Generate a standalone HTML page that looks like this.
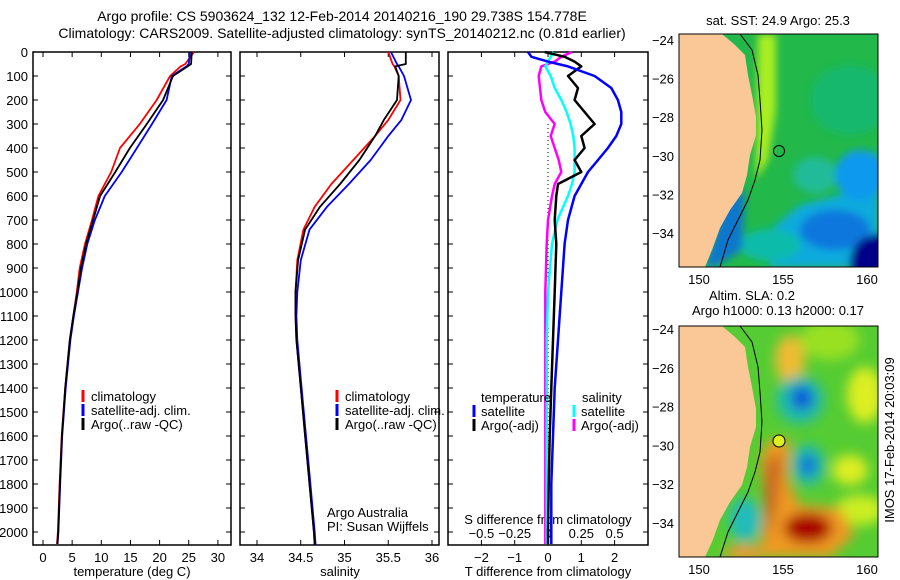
<!DOCTYPE html>
<html><head><meta charset="utf-8"><style>
html,body{margin:0;padding:0;background:#fff}
svg{display:block;font-family:"Liberation Sans",sans-serif}
text{font-size:13px;fill:#000}
</style></head><body>
<svg id="chart" width="900" height="580" viewBox="0 0 900 580">
<defs>
<filter id="blur4" x="-20%" y="-20%" width="140%" height="140%"><feGaussianBlur stdDeviation="6"/></filter>
<filter id="blur2" x="-20%" y="-20%" width="140%" height="140%"><feGaussianBlur stdDeviation="4"/></filter>
<clipPath id="clipTop"><rect x="679" y="34" width="199" height="233"/></clipPath>
<clipPath id="clipBot"><rect x="679" y="326" width="199" height="231"/></clipPath>
</defs>
<text x="342" y="21" text-anchor="middle" style="font-size:14px">Argo profile: CS 5903624_132 12-Feb-2014 20140216_190 29.738S 154.778E</text>
<text x="342" y="38" text-anchor="middle" style="font-size:14px">Climatology: CARS2009. Satellite-adjusted climatology: synTS_20140212.nc (0.81d earlier)</text>
<g id="panels"></g>

<!-- top map -->
<g>
<text x="778" y="25" text-anchor="middle">sat. SST: 24.9 Argo: 25.3</text>
<g clip-path="url(#clipTop)">
<rect x="679" y="34" width="199" height="233" fill="#22b84a"/>
<g filter="url(#blur2)">
<ellipse cx="850" cy="100" rx="40" ry="35" fill="#14b86e"/>
<ellipse cx="815" cy="175" rx="22" ry="18" fill="#22bb99"/>
<polygon points="800,205 840,195 878,150 878,267 770,267 770,230" fill="#11aadd"/>
<ellipse cx="860" cy="175" rx="25" ry="25" fill="#1199ee"/>
<ellipse cx="835" cy="230" rx="35" ry="20" fill="#1177dd"/>
<ellipse cx="880" cy="262" rx="30" ry="28" fill="#000088"/>
<ellipse cx="770" cy="245" rx="30" ry="16" fill="#11bbaa"/>
<polygon points="758,34 776,34 776,110 768,160 756,180" fill="#aaee22"/>
<polygon points="725,200 745,190 742,250 715,267 705,267" fill="#1177cc"/>
</g>
<polygon points="722,34 735,45 745,55 748,75 752,95 756,117 756,135 750,155 747,175 742,193 730,210 720,228 712,250 705,267 679,267 679,34" fill="#fac896"/>
<polyline points="740,34 752,50 758,75 760,100 762,130 760,160 755,180 748,200 738,220 728,240 720,267" fill="none" stroke="#000" stroke-width="1"/>
</g>
<rect x="679" y="34" width="199" height="233" fill="none" stroke="#000"/>
<circle cx="779" cy="151" r="5.5" fill="none" stroke="#000"/>
</g>

<!-- bottom map -->
<g>
<text x="752" y="300" text-anchor="middle">Altim. SLA: 0.2</text>
<text x="778" y="315" text-anchor="middle">Argo h1000: 0.13 h2000: 0.17</text>
<g clip-path="url(#clipBot)">
<rect x="679" y="326" width="199" height="231" fill="#55cc33"/>
<g filter="url(#blur4)">
<ellipse cx="830" cy="340" rx="30" ry="20" fill="#99e022"/>
<ellipse cx="790" cy="360" rx="15" ry="25" fill="#eebb33"/>
<ellipse cx="865" cy="395" rx="18" ry="28" fill="#ddee22"/>
<ellipse cx="850" cy="470" rx="18" ry="15" fill="#ddee22"/>
<ellipse cx="860" cy="510" rx="25" ry="15" fill="#ccee22"/>
<ellipse cx="800" cy="400" rx="24" ry="24" fill="#22bbaa"/>
<ellipse cx="802" cy="398" rx="11" ry="12" fill="#1155dd"/>
<ellipse cx="808" cy="465" rx="17" ry="21" fill="#22bbaa"/>
<ellipse cx="808" cy="465" rx="8" ry="10" fill="#1166dd"/>
<ellipse cx="745" cy="520" rx="16" ry="22" fill="#22bbbb"/>
<polygon points="768,440 790,440 788,480 800,505 840,508 855,535 830,557 760,557 765,500 760,460" fill="#ee9922"/>
<polygon points="782,455 778,500 768,540 764,500 766,460" fill="#cc6622"/>
<ellipse cx="808" cy="528" rx="24" ry="15" fill="#aa0000"/>
<ellipse cx="745" cy="553" rx="22" ry="8" fill="#ee9933"/>
</g>
<polygon points="722,326 735,337 745,347 748,367 752,387 756,409 756,427 750,447 747,467 742,485 730,502 720,520 712,542 705,557 679,557 679,326" fill="#fac896"/>
<polyline points="740,326 752,342 758,367 760,392 762,422 760,452 755,472 748,492 738,512 728,532 720,557" fill="none" stroke="#000" stroke-width="1"/>
</g>
<rect x="679" y="326" width="199" height="231" fill="none" stroke="#000"/>
<circle cx="779" cy="441" r="6" fill="#ddee22" stroke="#000"/>
</g>
<text transform="translate(894,440) rotate(-90)" text-anchor="middle">IMOS 17-Feb-2014 20:03:09</text>
</svg>
<script>
// ---- data ----
const depths    = [0, 50, 60, 100, 200, 300, 400, 500, 600, 700, 800, 900, 1000, 1100, 1200, 1400, 1600, 1800, 2000, 2050];
const tempClim  = [25.9, 24.4, 23.6, 21.8, 19.5, 16.6, 13.2, 11.7, 9.5, 8.4, 7.2, 6.3, 5.8, 5.2, 4.6, 3.8, 3.2, 2.85, 2.55, 2.4];
const tempSat   = [25.2, 25.0, 24.6, 22.1, 21.2, 18.7, 16.1, 13.5, 10.6, 8.9, 7.6, 6.7, 6.0, 5.3, 4.7, 3.9, 3.3, 2.95, 2.65, 2.5];
const tempArgo  = [25.5, 25.4, 24.8, 22.3, 20.6, 17.8, 14.9, 12.4, 9.8, 8.6, 7.4, 6.5, 5.9, 5.2, 4.6, 3.8, 3.25, 2.9, 2.6, 2.45];
const salDepths = [0, 50, 60, 100, 200, 283, 350, 450, 550, 645, 740, 867, 1000, 1100, 1200, 1400, 1600, 1800, 2000, 2055];
const salClim   = [35.5, 35.55, 35.57, 35.62, 35.64, 35.5, 35.35, 35.1, 34.85, 34.66, 34.53, 34.46, 34.44, 34.44, 34.45, 34.5, 34.55, 34.6, 34.65, 34.66];
const salSat    = [35.53, 35.6, 35.62, 35.68, 35.76, 35.65, 35.5, 35.3, 35.05, 34.8, 34.6, 34.5, 34.46, 34.45, 34.46, 34.51, 34.56, 34.61, 34.66, 34.67];
const salArgo   = [35.7, 35.7, 35.58, 35.62, 35.6, 35.45, 35.35, 35.17, 34.95, 34.72, 34.55, 34.47, 34.44, 34.44, 34.45, 34.5, 34.55, 34.6, 34.65, 34.66];
const diffDepths   = [0, 20, 40, 60, 100, 150, 200, 250, 300, 350, 400, 450, 500, 550, 600, 700, 800, 1000, 1200, 1400, 1600, 1800, 2000, 2050];
const tDiffSat     = [-0.6, -0.5, 0, 0.6, 1.4, 1.9, 2.1, 2.2, 2.2, 2.05, 1.8, 1.5, 1.2, 1.0, 0.8, 0.6, 0.5, 0.4, 0.3, 0.2, 0.15, 0.1, 0.1, 0.1];
const tDiffArgo    = [-0.1, 0.5, 0.8, 1.0, 0.6, 0.9, 0.8, 1.1, 1.4, 1.0, 1.1, 0.8, 1.0, 0.3, 0.25, 0.2, 0.25, 0.2, 0.15, 0.1, 0.05, 0.02, 0.0, 0.0];
const sDiffSat     = [0.04, 0.02, 0.0, -0.02, 0.02, 0.05, 0.1, 0.14, 0.17, 0.19, 0.2, 0.2, 0.2, 0.18, 0.15, 0.07, 0.03, 0.0, -0.01, -0.01, -0.01, -0.01, -0.01, -0.01];
const sDiffArgo    = [0.18, 0.1, 0.05, -0.05, -0.07, -0.06, -0.05, -0.02, 0.05, 0.02, 0.05, 0.08, 0.1, 0.05, 0.03, 0.0, -0.01, -0.02, -0.02, -0.02, -0.02, -0.02, -0.02, -0.02];
const depthTicks = [0,100,200,300,400,500,600,700,800,900,1000,1100,1200,1300,1400,1500,1600,1700,1800,1900,2000];
const tempTicks  = [0,5,10,15,20,25,30];
const salTicks   = [34,34.5,35,35.5,36];
const tDiffTicks = [-2,-1,0,1,2];
const sDiffTicks = [-0.5,-0.25,0,0.25,0.5];
const sDiffTickLabels = ["\u22120.5","\u22120.25","0","0.25","0.5"];
const tDiffTickLabels = ["\u22122","\u22121","0","1","2"];

// ---- scales ----
const TOP=52, BOT=545;
const yD = d => TOP + d*0.24;
const xT = t => 43 + t*5.83;
const xS = s => 257 + (s-34)*87.5;
const xDT = t => 548 + t*33.3;
const xDS = s => 548 + s*133.2;

const NS='http://www.w3.org/2000/svg';
const root=document.getElementById('panels');
function mk(tag, attrs, parent){const e=document.createElementNS(NS,tag);for(const k in attrs)e.setAttribute(k,attrs[k]);(parent||root).appendChild(e);return e;}

function frame(x0,x1,name){
  const r=mk('rect',{x:x0,y:TOP,width:x1-x0,height:BOT-TOP,fill:'none',stroke:'#000','stroke-width':1.5});
  
  
  depthTicks.forEach(d=>{
    mk('line',{x1:x0,x2:x0+5,y1:yD(d),y2:yD(d),stroke:'#000'});
    mk('line',{x1:x1-5,x2:x1,y1:yD(d),y2:yD(d),stroke:'#000'});
  });
}
function xticks(vals,labels,fx,x0,x1,name,ly){
  vals.forEach((v,i)=>{
    const x=fx(v);
    mk('line',{x1:x,x2:x,y1:BOT,y2:BOT-5,stroke:'#000'});
    mk('line',{x1:x,x2:x,y1:TOP,y2:TOP+5,stroke:'#000'});
    const t=mk('text',{x:x,y:ly||562,'text-anchor':'middle'});t.textContent=labels[i];
    
    
  });
}
function line(xs,ds,fx,color,w,name){
  const pts=xs.map((v,i)=>fx(v).toFixed(1)+','+yD(ds[i]).toFixed(1)).join(' ');
  const p=mk('polyline',{points:pts,fill:'none',stroke:color,'stroke-width':w,'stroke-linejoin':'round'});
  
  
}
function txt(x,y,s,name,anchor){
  const t=mk('text',{x:x,y:y,'text-anchor':anchor||'start'});t.textContent=s;
  
  
}
function legendMark(x,y,c){mk('rect',{x:x-1.5,y:y-11,width:3,height:12,fill:c});}

// panel 1
frame(33,231,'temperature-panel');
depthTicks.forEach(d=>{
  const t=mk('text',{x:28,y:yD(d)+5,'text-anchor':'end'});t.textContent=d;
  
  
});
xticks(tempTicks,tempTicks.map(String),xT,33,231,'temperature-tick-label');
line(tempClim,depths,xT,'#f00',1.8,'temperature-climatology-line');
line(tempSat,depths,xT,'#00f',1.8,'temperature-satellite-line');
line(tempArgo,depths,xT,'#000',1.8,'temperature-argo-line');
txt(132,576,'temperature (deg C)','temperature-axis-title','middle');
legendMark(83,401,'#f00');txt(91,401,'climatology','legend-climatology');
legendMark(83,415,'#00f');txt(91,415,'satellite-adj. clim.','legend-satellite');
legendMark(83,429,'#000');txt(91,429,'Argo(..raw -QC)','legend-argo');

// panel 2
frame(240,439,'salinity-panel');
xticks(salTicks,salTicks.map(String),xS,240,439,'salinity-tick-label');
line(salClim,salDepths,xS,'#f00',1.8,'salinity-climatology-line');
line(salSat,salDepths,xS,'#00f',1.8,'salinity-satellite-line');
line(salArgo,salDepths,xS,'#000',1.8,'salinity-argo-line');
txt(340,576,'salinity','salinity-axis-title','middle');
legendMark(337,401,'#f00');txt(345,401,'climatology','legend-climatology-2');
legendMark(337,415,'#00f');txt(345,415,'satellite-adj. clim.','legend-satellite-2');
legendMark(337,429,'#000');txt(345,429,'Argo(..raw -QC)','legend-argo-2');
txt(327,517,'Argo Australia','credit-line-1');
txt(327,531,'PI: Susan Wijffels','credit-line-2');

// panel 3
frame(448,648,'difference-panel');
mk('line',{x1:548,x2:548,y1:yD(300),y2:BOT,stroke:'#000','stroke-dasharray':'1,3'});
xticks(tDiffTicks,tDiffTickLabels,xDT,448,648,'t-diff-tick-label');
sDiffTicks.forEach((v,i)=>{const t=mk('text',{x:xDS(v),y:538,'text-anchor':'middle'});t.textContent=sDiffTickLabels[i];
  
  });
txt(548,524,'S difference from climatology','s-diff-axis-title','middle');
line(sDiffArgo,diffDepths,xDS,'#f0f',2.5,'salinity-argo-diff-line');
line(sDiffSat,diffDepths,xDS,'#0ff',2.5,'salinity-satellite-diff-line');
line(tDiffArgo,diffDepths,xDT,'#000',2.5,'temperature-argo-diff-line');
line(tDiffSat,diffDepths,xDT,'#00f',2.5,'temperature-satellite-diff-line');
txt(548,576,'T difference from climatology','t-diff-axis-title','middle');
txt(481,402,'temperature','legend-temperature-header');
txt(582,402,'salinity','legend-salinity-header');
legendMark(474,416,'#00f');txt(481,416,'satellite','legend-t-satellite');
legendMark(474,430,'#000');txt(481,430,'Argo(-adj)','legend-t-argo');
legendMark(574,416,'#0ff');txt(581,416,'satellite','legend-s-satellite');
legendMark(574,430,'#f0f');txt(581,430,'Argo(-adj)','legend-s-argo');

// map axes
function mapAxes(y0,y1,latTop,latStep,name){
  const xs=[699,783,867],lons=[150,155,160];
  xs.forEach((x,i)=>{mk('line',{x1:x,x2:x,y1:y1,y2:y1-4,stroke:'#000'});mk('line',{x1:x,x2:x,y1:y0,y2:y0+4,stroke:'#000'});
    const t=mk('text',{x:x,y:y1+17,'text-anchor':'middle'});t.textContent=lons[i];
    
    });
  [-24,-26,-28,-30,-32,-34].forEach(l=>{const y=latTop+(-24-l)*latStep;
    mk('line',{x1:679,x2:683,y1:y,y2:y,stroke:'#000'});mk('line',{x1:874,x2:878,y1:y,y2:y,stroke:'#000'});
    const t=mk('text',{x:674,y:y+5,'text-anchor':'end'});t.textContent='\u2212'+(-l);
    
    });
}
mapAxes(34,267,40,19.3,'sst-map');
mapAxes(326,557,329,19.4,'sla-map');
</script>
</body></html>
